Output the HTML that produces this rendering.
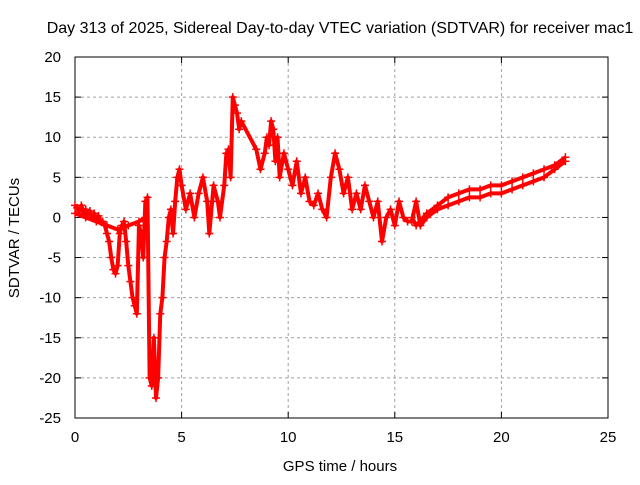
<!DOCTYPE html>
<html><head><meta charset="utf-8"><style>
body{margin:0;background:#fff;width:640px;height:480px;overflow:hidden}
svg text{font-family:"Liberation Sans",sans-serif;font-size:15px;fill:#000}
</style></head><body>
<svg id="c" width="640" height="480"></svg>
<script>
const xTicks=[0,5,10,15,20,25];
const yTicks=[20,15,10,5,0,-5,-10,-15,-20,-25];
const times=[0,0.1,0.2,0.3,0.4,0.5,0.6,0.7,0.8,0.9,1.0,1.1,1.2,1.3,1.4,1.5,1.6,1.7,1.8,1.9,2.0,2.1,2.2,2.3,2.4,2.5,2.6,2.7,2.8,2.9,3.0,3.1,3.2,3.3,3.4,3.5,3.6,3.7,3.8,3.9,4.0,4.1,4.2,4.3,4.4,4.5,4.6,4.7,4.8,4.9,5.0,5.2,5.4,5.6,5.8,6.0,6.2,6.3,6.5,6.7,6.8,7.0,7.1,7.2,7.3,7.4,7.5,7.6,7.7,7.8,8.5,8.7,8.9,9.0,9.1,9.2,9.3,9.4,9.5,9.6,9.8,10.0,10.2,10.4,10.6,10.8,11.0,11.2,11.4,11.6,11.8,12.0,12.2,12.4,12.6,12.8,13.0,13.2,13.4,13.6,13.8,14.0,14.2,14.4,14.6,14.8,15.0,15.2,15.4,15.6,15.8,16.0,16.2,16.5,17,17.5,18,18.5,19,19.5,20,20.5,21,21.5,22,22.5,23];
const vtec=[1.5,1.2,0.8,1.5,0.5,1.0,0.3,0.8,0,0.5,-0.3,0.2,-0.5,-0.5,-1,-2,-3,-5,-6.5,-7,-6,-2,-1,-0.5,-3,-6,-8,-10,-11,-12,-1,-2,-5,2,2.5,-20,-21,-15,-22.5,-20,-12,-10,-5,-3,0,1,-2,2,5,6,4,1,3,0,3,5,2,-2,4,2,0,4,8,8.5,5,15,14,13,11,12,8.5,6,8,10,9,12,11,7,10,5,8,6,4,7,3,5,2,1.5,3,1,0,5,8,6,3,5,1,3,1,4,2,0,2,-3,0,1,-1,2,0,-0.5,-0.5,2,-1,0,1,1.5,2,2.5,2.5,3,3,3.5,4,4.5,5,6,7];
const times2=[0,0.5,1,1.5,2,2.5,3,3.3];
const vtec2=[0.5,0,-0.5,-1,-1.5,-1,-0.5,0];
const times3=[15.8,16,16.5,17,17.5,18,18.5,19,19.5,20,20.5,21,21.5,22,22.5,23];
const vtec3=[0,-1,0.5,1.5,2.5,3,3.5,3.5,4,4,4.5,5,5.5,6,6.5,7.5];
const NS='http://www.w3.org/2000/svg',svg=document.getElementById('c');
const X0=75,X1=608,Y0=57,Y1=418;
const sx=v=>X0+(v-0)/25*(X1-X0), sy=v=>Y0+(20-v)/45*(Y1-Y0);
function mk(t,a){const e=document.createElementNS(NS,t);for(const k in a)e.setAttribute(k,a[k]);svg.appendChild(e);return e;}
xTicks.forEach(t=>{const x=sx(t);
 if(t>0&&t<25){const g=mk('line',{x1:x,x2:x,y1:Y0,y2:Y1,stroke:'#a0a0a0','stroke-dasharray':'3,3'});}
 const l=mk('text',{x:x,y:Y1+24,'text-anchor':'middle'});l.textContent=t;
 
 mk('line',{x1:x,x2:x,y1:Y1,y2:Y1-6,stroke:'#000'});mk('line',{x1:x,x2:x,y1:Y0,y2:Y0+6,stroke:'#000'});});
yTicks.forEach(t=>{const y=sy(t);
 if(t<20&&t>-25){const g=mk('line',{x1:X0,x2:X1,y1:y,y2:y,stroke:'#a0a0a0','stroke-dasharray':'3,3'});}
 const l=mk('text',{x:X0-14,y:y+5,'text-anchor':'end'});l.textContent=t;
 
 mk('line',{x1:X0,x2:X0+6,y1:y,y2:y,stroke:'#000'});mk('line',{x1:X1,x2:X1-6,y1:y,y2:y,stroke:'#000'});});
const fr=mk('rect',{x:X0,y:Y0,width:X1-X0,height:Y1-Y0,fill:'none',stroke:'#000'});

function series(ts,vs,name){
 const p=mk('polyline',{points:ts.map((t,i)=>sx(t)+','+sy(vs[i])).join(' '),fill:'none',stroke:'#f00','stroke-width':4,'stroke-linejoin':'round'});
 
 ts.forEach((t,i)=>{const x=sx(t),y=sy(vs[i]);
  const m=mk('path',{d:`M${x-4},${y}H${x+4}M${x},${y-4}V${y+4}`,stroke:'#f00','stroke-width':1.5});
  });
}
series(times2,vtec2,'early-trace');
series(times3,vtec3,'late-trace');
series(times,vtec,'sdtvar');
const tt=mk('text',{x:340,y:33,'text-anchor':'middle','font-size':'16px',style:'font-size:16px'});tt.textContent='Day 313 of 2025, Sidereal Day-to-day VTEC variation (SDTVAR) for receiver mac1';

const xl=mk('text',{x:340,y:471,'text-anchor':'middle'});xl.textContent='GPS time / hours';

const yl=mk('text',{x:0,y:0,'text-anchor':'middle',transform:'translate(19,238) rotate(-90)'});yl.textContent='SDTVAR / TECUs';

</script>
</body></html>
